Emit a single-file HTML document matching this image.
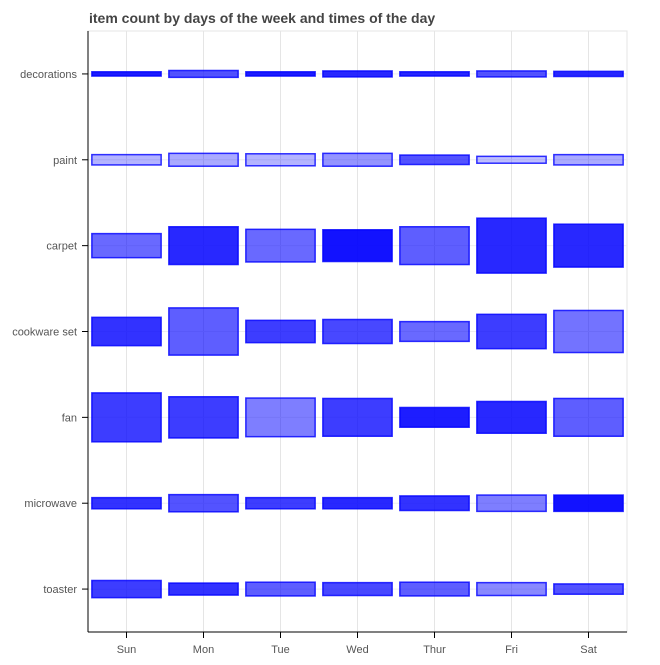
<!DOCTYPE html>
<html><head><meta charset="utf-8"><style>
body{margin:0;background:#fff;font-family:"Liberation Sans",sans-serif}
svg text{font-family:"Liberation Sans",sans-serif}
</style></head><body>
<svg id="c" width="660" height="660">
<text x="89" y="23" font-size="14" font-weight="bold" fill="#444">item count by days of the week and times of the day</text>
</svg>
<script>
const days=["Sun","Mon","Tue","Wed","Thur","Fri","Sat"];
const items=["decorations","paint","carpet","cookware set","fan","microwave","toaster"];
// heights in units of one category band
const hDecorations=[0.05,0.08,0.05,0.07,0.05,0.07,0.06];
const hPaint=[0.12,0.15,0.14,0.15,0.11,0.08,0.12];
const hCarpet=[0.28,0.44,0.38,0.37,0.44,0.64,0.50];
const hCookware=[0.33,0.55,0.26,0.28,0.23,0.40,0.49];
const hFan=[0.57,0.48,0.45,0.44,0.23,0.37,0.44];
const hMicrowave=[0.13,0.20,0.13,0.13,0.17,0.19,0.19];
const hToaster=[0.20,0.14,0.16,0.15,0.16,0.15,0.12];
const aDecorations=[0.95,0.7,0.95,0.9,0.9,0.7,0.9];
const aPaint=[0.25,0.3,0.25,0.4,0.7,0.2,0.3];
const aCarpet=[0.6,0.9,0.6,1.0,0.65,0.9,0.9];
const aCookware=[0.85,0.65,0.8,0.75,0.6,0.8,0.55];
const aFan=[0.8,0.8,0.5,0.8,0.95,0.9,0.65];
const aMicrowave=[0.85,0.7,0.8,0.9,0.85,0.5,1.0];
const aToaster=[0.8,0.85,0.65,0.75,0.65,0.45,0.7];
const H=[hDecorations,hPaint,hCarpet,hCookware,hFan,hMicrowave,hToaster];
const A=[aDecorations,aPaint,aCarpet,aCookware,aFan,aMicrowave,aToaster];
const L=88,R=627,T=31,B=632;
const xs=i=>L+(R-L)*(i+0.5)/days.length;
const band=(B-T)/items.length;
const ys=j=>T+band*(j+0.5);
const svg=document.getElementById('c');
const NS='http://www.w3.org/2000/svg';
function mk(t,a){const e=document.createElementNS(NS,t);for(const k in a)e.setAttribute(k,a[k]);svg.appendChild(e);return e;}
let e=mk('rect',{x:L,y:T,width:R-L,height:B-T,fill:'none',stroke:'#e5e5e5'});


days.forEach((d,i)=>{const g=mk('line',{x1:xs(i),x2:xs(i),y1:T,y2:B,stroke:'#e5e5e5'});

});
items.forEach((it,j)=>{const g=mk('line',{x1:L,x2:R,y1:ys(j),y2:ys(j),stroke:'#eeeeee'});

});
const w=(R-L)/days.length*0.9;
items.forEach((it,j)=>days.forEach((d,i)=>{
 const h=H[j][i]*band;
 const r=mk('rect',{x:xs(i)-w/2,y:ys(j)-h/2,width:w,height:h,fill:'rgb(0,0,255)','fill-opacity':A[j][i]*0.85+0.08,stroke:'#0000ff','stroke-opacity':0.8,'stroke-width':1.5});
 
 
}));
e=mk('line',{x1:L,x2:L,y1:T,y2:B,stroke:'#000'});


e=mk('line',{x1:L,x2:R,y1:B,y2:B,stroke:'#000'});


items.forEach((it,j)=>{mk('line',{x1:L-6,x2:L,y1:ys(j),y2:ys(j),stroke:'#000'});
 const t=mk('text',{x:L-11,y:ys(j)+4,'text-anchor':'end','font-size':11,fill:'#555'});t.textContent=it;
 
 });
days.forEach((d,i)=>{mk('line',{x1:xs(i),x2:xs(i),y1:B,y2:B+6,stroke:'#000'});
 const t=mk('text',{x:xs(i),y:B+21,'text-anchor':'middle','font-size':11,fill:'#555'});t.textContent=d;
 
 });
</script>
</body></html>
